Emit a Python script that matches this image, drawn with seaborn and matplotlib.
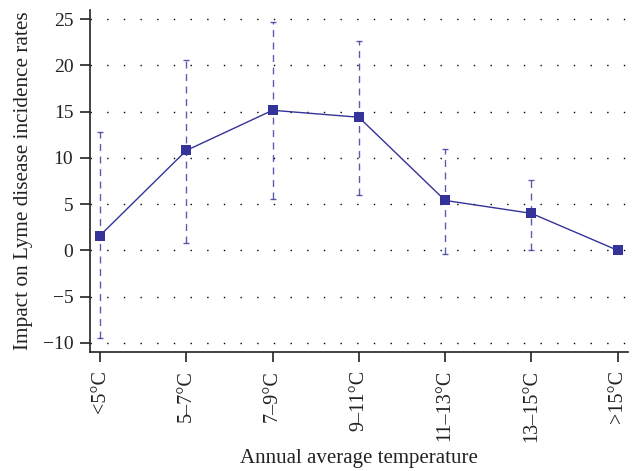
import numpy as np
import pandas as pd
import matplotlib
matplotlib.use("Agg")
import matplotlib.pyplot as plt
import seaborn as sns

# --- Data ---
categories = ["<5°C", "5–7°C", "7–9°C", "9–11°C", "11–13°C", "13–15°C", ">15°C"]
impact = [1.6, 10.8, 15.15, 14.4, 5.4, 4.0, 0.0]
ci_upper = [12.8, 20.6, 24.7, 22.7, 11.0, 7.6, np.nan]
ci_lower = [-9.5, 0.8, 5.5, 6.0, -0.4, 0.05, np.nan]
ytick_vals = [-10, -5, 0, 5, 10, 15, 20, 25]

COLOR = "#333399"
TEXT = "#222222"

df = pd.DataFrame({"pos": range(len(categories)), "impact": impact,
                   "upper": ci_upper, "lower": ci_lower})

sns.set_theme(style="ticks")
plt.rcParams["font.family"] = ["Liberation Serif", "DejaVu Serif"]

fig = plt.figure(figsize=(6.37, 4.71), dpi=100)
ax = fig.add_axes([90 / 637, 1 - 352 / 471, (628 - 90) / 637, (352 - 10) / 471])

# confidence intervals, dashed
ci = df.dropna()
eb = ax.errorbar(ci["pos"], ci["impact"],
                 yerr=[ci["impact"] - ci["lower"], ci["upper"] - ci["impact"]],
                 fmt="none", ecolor=COLOR, elinewidth=1.0, capsize=2.5,
                 capthick=1.0, alpha=0.8, zorder=2)
for lc in eb[2]:
    lc.set_linestyle((0, (5, 4)))

sns.lineplot(data=df, x="pos", y="impact", color=COLOR, marker="s",
             markersize=7, markeredgewidth=0, linewidth=1.0, ax=ax, zorder=3)

ax.set_xlim(-0.116, 6.12)
ax.set_ylim(-11, 26)
ax.set_yticks(ytick_vals)
ax.set_yticklabels([str(v).replace("-", "−") for v in ytick_vals])
ax.set_xticks(range(len(categories)))
ax.set_xticklabels(categories, rotation=90)

ax.yaxis.grid(True, color="black", linestyle=(0, (1, 11)), linewidth=1.0)
ax.xaxis.grid(False)
sns.despine(ax=ax)
for s in ["left", "bottom"]:
    ax.spines[s].set_linewidth(1.2)
    ax.spines[s].set_color(TEXT)

ax.tick_params(axis="both", colors=TEXT, width=1.2, length=7, direction="out")
ax.tick_params(axis="y", labelsize=14, pad=5)
ax.tick_params(axis="x", labelsize=14.5, pad=6)

ax.set_xlabel("Annual average temperature", fontsize=15, color=TEXT, va="center")
ax.xaxis.set_label_coords(0.5, -(459 - 352) / 342)
ax.set_ylabel("Impact on Lyme disease incidence rates", fontsize=15.3, color=TEXT, va="center")
ax.yaxis.set_label_coords(-(90 - 24) / 538, 0.5)

fig.savefig("out.png", dpi=100)
